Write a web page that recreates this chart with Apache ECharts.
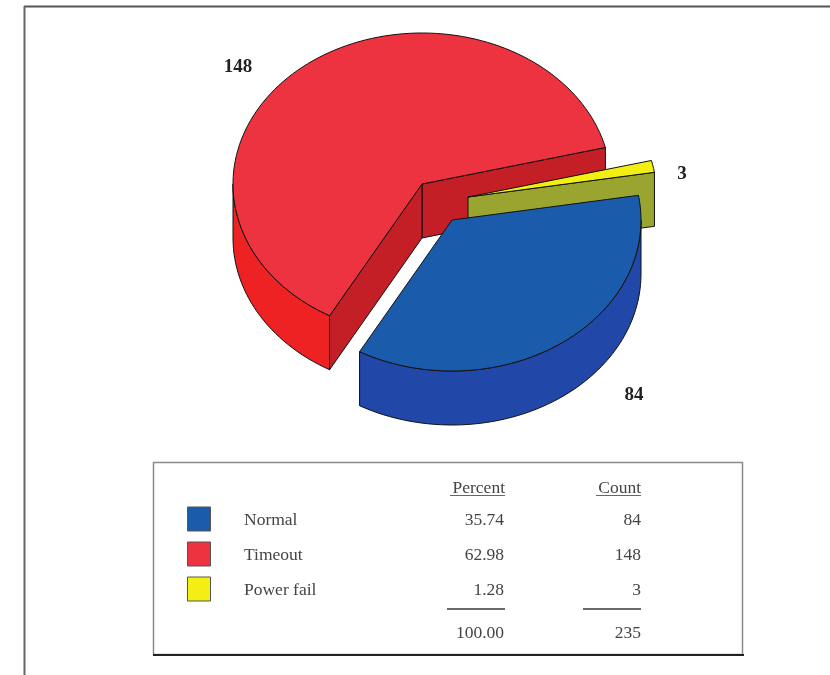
<!DOCTYPE html>
<html>
<head>
<meta charset="utf-8">
<style>html,body{margin:0;padding:0;background:#fff;overflow:hidden}#c{width:830px;height:675px;filter:blur(0.6px)}</style>
<script src="https://cdn.jsdelivr.net/npm/echarts@6/dist/echarts.min.js"></script>
</head>
<body>
<div id="c"></div>
<script>
const categories = ['Normal', 'Timeout', 'Power fail'];
const counts = [84, 148, 3];
const percents = ['35.74', '62.98', '1.28'];
const totalPercent = '100.00';
const totalCount = '235';
const columnHeaders = ['Percent', 'Count'];

const sliceOrder = [1, 0, 2];   // counter-clockwise from the start angle
const paintOrder = [1, 2, 0];   // back to front

const startAngle = 14, RX = 189, RY = 151, DEPTH = 54, CX = 422, CY = 184;
const styles = [
  {top:'#1a5cab', wall:'#2148a8', face:'#1c4f9c', dx:30, dy:36, lx:634, ly:395},
  {top:'#ee3340', wall:'#ee2222', face:'#c41f27', dx:0,  dy:0,  lx:238, ly:67},
  {top:'#f3ee14', wall:'#d8d010', face:'#9aa52f', dx:46, dy:13, lx:682, ly:174}
];
const swatch = ['#1a5cab', '#ee3340', '#f3ee14'];

const total = counts.reduce((a, b) => a + b, 0);
const spans = {};
let acc = startAngle;
sliceOrder.forEach(i => {
  const sweep = counts[i] / total * 360;
  spans[i] = [acc, acc + sweep];
  acc += sweep;
});

function pt(c, a, z) {
  const r = a * Math.PI / 180;
  return [c[0] + RX * Math.cos(r), c[1] - RY * Math.sin(r) + (z || 0)];
}
function arc(c, a0, a1, z) {
  const pts = [];
  const n = Math.max(2, Math.ceil(Math.abs(a1 - a0) / 2));
  for (let k = 0; k <= n; k++) pts.push(pt(c, a0 + (a1 - a0) * k / n, z));
  return pts;
}
function poly(points, fill) {
  return {type:'polygon', shape:{points}, style:{fill, stroke:'#111', lineWidth:1, lineJoin:'round'}};
}
function faceDown(a) { return Math.sin(a * Math.PI / 180) < 0; }

function renderSlice(params, api) {
  const i = api.value(1);
  const s = styles[i];
  const [a0, a1] = spans[i];
  const c = [CX + s.dx, CY + s.dy];
  const kids = [];
  // front walls: portion of the arc in the lower half of the ellipse
  [[180, 360], [540, 720]].forEach(([lo, hi]) => {
    const w0 = Math.max(a0, lo), w1 = Math.min(a1, hi);
    if (w1 > w0) {
      kids.push(poly(arc(c, w0, w1, 0).concat(arc(c, w1, w0, DEPTH)), s.wall));
    }
  });
  const face = a => {
    const p = pt(c, a, 0);
    kids.push(poly([c, p, [p[0], p[1] + DEPTH], [c[0], c[1] + DEPTH]], s.face));
  };
  if (faceDown(a0 - 90)) face(a0);
  if (faceDown(a1 + 90)) face(a1);
  kids.push(poly([c].concat(arc(c, a0, a1, 0)), s.top));
  kids.push({type:'text', style:{text:String(api.value(0)), x:s.lx, y:s.ly, textAlign:'center', textVerticalAlign:'middle',
    font:'bold 19px "Liberation Serif"', fill:'#222'}});
  return {type:'group', children:kids};
}

const T = {font:'17.5px "Liberation Serif"', fill:'#444'};
const rowY = [519, 554, 589];
const g = [];
const line = (x1, y1, x2, y2, stroke, lineWidth) => g.push({type:'line', shape:{x1, y1, x2, y2}, style:{stroke, lineWidth}});
const txt = (text, x, y, textAlign) => g.push({type:'text', style:{text, x, y, textAlign, textVerticalAlign:'middle', font:T.font, fill:T.fill}});
// page frame
line(24, 6.5, 830, 6.5, '#555', 2);
line(24.5, 6, 24.5, 675, '#666', 2);
// legend box
g.push({type:'rect', shape:{x:153.5, y:462.5, width:589, height:192}, style:{fill:'#fff', stroke:'#8a8a8a', lineWidth:1.5}});
line(153, 655, 744, 655, '#222', 2);
// table
txt(columnHeaders[0], 505, 488, 'right');
txt(columnHeaders[1], 641, 488, 'right');
line(450, 495.5, 505, 495.5, '#666', 1);
line(596, 495.5, 641, 495.5, '#666', 1);
categories.forEach((name, i) => {
  g.push({type:'rect', shape:{x:187.5, y:rowY[i] - 12, width:23, height:24}, style:{fill:swatch[i], stroke:'#555', lineWidth:1}});
  txt(name, 244, rowY[i] + 1, 'left');
  txt(percents[i], 504, rowY[i] + 1, 'right');
  txt(String(counts[i]), 641, rowY[i] + 1, 'right');
});
line(447, 609, 505, 609, '#6a6a6a', 2);
line(583, 609, 641, 609, '#6a6a6a', 2);
txt(totalPercent, 504, 633, 'right');
txt(totalCount, 641, 633, 'right');

const chart = echarts.init(document.getElementById('c'), null, {renderer:'canvas'});
chart.setOption({
  animation:false,
  backgroundColor:'#fff',
  graphic:{elements:g},
  series:[{
    type:'custom',
    coordinateSystem:'none',
    renderItem:renderSlice,
    data:paintOrder.map(i => ({name:categories[i], value:[counts[i], i]}))
  }]
});
</script>
</body>
</html>
